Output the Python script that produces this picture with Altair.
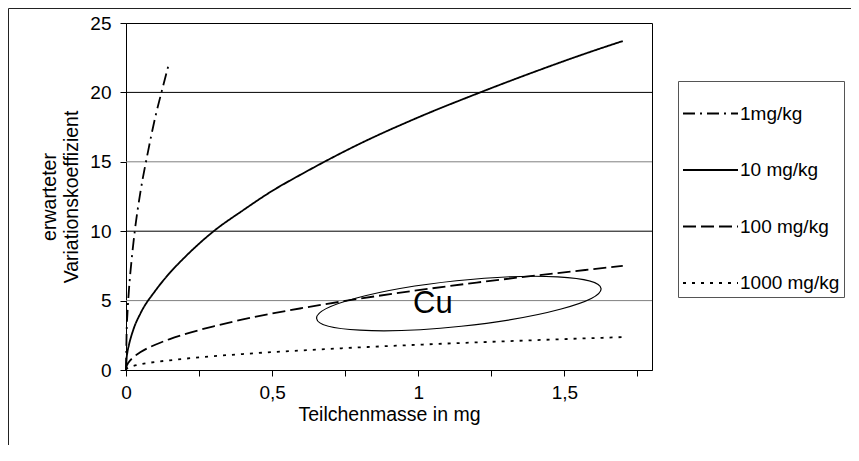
import altair as alt
import pandas as pd

FONT = "Liberation Sans, Arial, sans-serif"

# series
series_names = ["1mg/kg", "10 mg/kg", "100 mg/kg", "1000 mg/kg"]

x_1mg = [0, 0.002, 0.005, 0.01, 0.02, 0.03, 0.05, 0.075, 0.1, 0.125, 0.146]
y_1mg = [0, 2.6, 4.1, 5.75, 8.1, 10.0, 12.9, 15.7, 18.2, 20.3, 22.0]

x_common = [0, 0.002, 0.005, 0.01, 0.025, 0.05, 0.1, 0.15, 0.2, 0.3, 0.4,
            0.5, 0.6, 0.8, 1.0, 1.2, 1.4, 1.6, 1.7]
y_10mg = [0, 0.8, 1.3, 1.8, 2.9, 4.1, 5.7, 7.0, 8.1, 10.0, 11.5,
          12.9, 14.1, 16.3, 18.2, 19.9, 21.5, 23.0, 23.7]
y_100mg = [0, 0.26, 0.41, 0.58, 0.91, 1.29, 1.82, 2.23, 2.57, 3.15, 3.64,
           4.07, 4.45, 5.14, 5.75, 6.3, 6.8, 7.27, 7.5]
y_1000mg = [0, 0.08, 0.13, 0.18, 0.29, 0.41, 0.58, 0.70, 0.81, 1.0, 1.15,
            1.29, 1.41, 1.63, 1.82, 1.99, 2.15, 2.3, 2.37]

grid_values = [5, 10, 15, 20]
x_ticks = [0, 0.25, 0.5, 0.75, 1.0, 1.25, 1.5, 1.75]
y_ticks = [0, 5, 10, 15, 20, 25]

# annotation
cu_label = ["Cu"]
cu_text_x = [1.05]
cu_text_y = [4.1]
ellipse_x = [1.139]
ellipse_y = [4.79]

rows = []
for i, (x, y) in enumerate(zip(x_1mg, y_1mg)):
    rows.append({"series": series_names[0], "x": x, "y": y, "i": i})
for name, ys in zip(series_names[1:], [y_10mg, y_100mg, y_1000mg]):
    for i, (x, y) in enumerate(zip(x_common, ys)):
        rows.append({"series": name, "x": x, "y": y, "i": i})
df = pd.DataFrame(rows)

xscale = alt.Scale(domain=[0, 1.8], nice=False, zero=True)
yscale = alt.Scale(domain=[0, 25], nice=False)

x_axis = alt.Axis(
    values=x_ticks,
    labelExpr="datum.value % 0.5 == 0 ? replace(format(datum.value, ''), '.', ',') : ''",
    grid=False, tickSize=6, labelPadding=7, labelFontSize=19, labelFont=FONT,
    title="Teilchenmasse in mg", titleFontSize=19.5, titleFont=FONT,
    titleFontWeight="normal", titlePadding=3,
    domainColor="black", tickColor="black", labelColor="black", titleColor="black",
    labelFlush=False,
)
y_axis = alt.Axis(
    values=y_ticks, grid=False, tickSize=6, labelPadding=9, labelFontSize=19,
    labelFont=FONT, title=["erwarteter", "Variationskoeffizient"],
    titleFontSize=19.5, titleFont=FONT, titleFontWeight="normal",
    titleLineHeight=22, titlePadding=8,
    domainColor="black", tickColor="black", labelColor="black", titleColor="black",
)

frame = alt.Chart(pd.DataFrame({"a": [0]})).mark_rect(
    fillOpacity=0, stroke="#222222", strokeWidth=1
).encode(
    x=alt.value(-117.5), x2=alt.value(900), y=alt.value(-14.5), y2=alt.value(600)
)

grid = alt.Chart(pd.DataFrame({"v": grid_values})).mark_rule(strokeWidth=1).encode(
    y=alt.Y("v:Q", scale=yscale, axis=y_axis),
    color=alt.condition("datum.v % 10 == 0", alt.value("#000000"), alt.value("#808080")),
)

lines = alt.Chart(df).mark_line(color="black", strokeWidth=1.8, interpolate="monotone").encode(
    x=alt.X("x:Q", scale=xscale, axis=x_axis),
    y=alt.Y("y:Q", scale=yscale, axis=y_axis),
    order="i:Q",
    strokeDash=alt.StrokeDash(
        "series:N",
        scale=alt.Scale(domain=series_names,
                        range=[[12, 5, 2, 5], [1, 0], [13, 5], [3, 6]]),
        sort=series_names,
        legend=alt.Legend(
            title=None, orient="none", legendX=552, legendY=58,
            symbolType="stroke", symbolSize=3025, symbolStrokeWidth=2,
            symbolStrokeColor="black", labelFontSize=19, labelFont=FONT,
            labelColor="black", labelOffset=1, padding=4, rowPadding=17.5,
            strokeColor="#555555", fillColor="white", labelLimit=250,
        ),
    ),
)

ell_path = ("M -1 0 C -1 -0.0884 -0.5523 -0.16 0 -0.16 C 0.5523 -0.16 1 -0.0884 1 0 "
            "C 1 0.0884 0.5523 0.16 0 0.16 C -0.5523 0.16 -1 0.0884 -1 0 Z")
ellipse = alt.Chart(pd.DataFrame({"x": ellipse_x, "y": ellipse_y})).mark_point(
    shape=ell_path, size=81796, angle=354, filled=False, stroke="black",
    strokeWidth=1.2, opacity=1
).encode(
    x=alt.X("x:Q", scale=xscale), y=alt.Y("y:Q", scale=yscale)
)

cu = alt.Chart(pd.DataFrame({"x": cu_text_x, "y": cu_text_y, "t": cu_label})).mark_text(
    fontSize=31, font=FONT, align="center", baseline="alphabetic", color="black"
).encode(
    x=alt.X("x:Q", scale=xscale), y=alt.Y("y:Q", scale=yscale), text="t:N"
)

chart = alt.layer(frame, grid, lines, ellipse, cu).properties(
    width=526, height=347,
    autosize=alt.AutoSizeParams(type="none"),
    padding={"left": 118, "top": 15, "right": 199, "bottom": 75},
    background="white",
).configure_view(stroke="black", strokeWidth=1)

chart.save("out.html", embed_options={"renderer": "svg", "actions": False})
